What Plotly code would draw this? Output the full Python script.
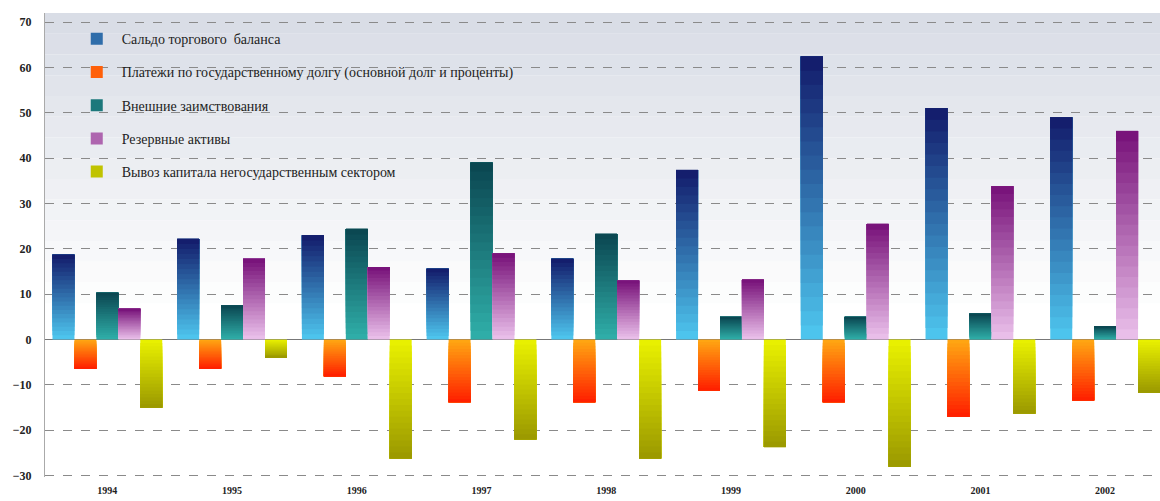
import plotly.graph_objects as go

years = ["1994", "1995", "1996", "1997", "1998", "1999", "2000", "2001", "2002"]

series_names = [
    "Сальдо торгового  баланса",
    "Платежи по государственному долгу (основной долг и проценты)",
    "Внешние заимствования",
    "Резервные активы",
    "Вывоз капитала негосударственным сектором",
]

trade_balance = [18.7, 22.2, 23.0, 15.6, 17.8, 37.4, 62.4, 51.0, 49.0]
debt_payments = [-6.4, -6.4, -8.1, -13.8, -13.8, -11.2, -13.8, -17.0, -13.4]
borrowing = [10.3, 7.5, 24.4, 39.0, 23.3, 5.0, 5.0, 5.7, 2.9]
reserves = [6.8, 17.8, 16.0, 19.0, 13.0, 13.2, 25.5, 33.8, 46.0]
capital_flight = [-15.0, -4.0, -26.2, -22.0, -26.2, -23.7, -28.0, -16.3, -11.7]

y_ticks = [-30, -20, -10, 0, 10, 20, 30, 40, 50, 60, 70]

all_series = [trade_balance, debt_payments, borrowing, reserves, capital_flight]
# gradient colours: (near zero, far end)
grad = [
    ("#4ec8f0", "#131a6a"),
    ("#ffa812", "#ff1e00"),
    ("#30b0aa", "#0a4550"),
    ("#ecc2ec", "#761078"),
    ("#eaf200", "#9a9800"),
]


def hex2rgb(h):
    h = h.lstrip("#")
    return tuple(int(h[i:i + 2], 16) for i in (0, 2, 4))


def mix(c1, c2, t):
    a, b = hex2rgb(c1), hex2rgb(c2)
    return "rgb(%d,%d,%d)" % tuple(round(a[i] + (b[i] - a[i]) * t) for i in range(3))


N = 20
fig = go.Figure()
for si, (name, vals) in enumerate(zip(series_names, all_series)):
    c0, c1 = grad[si]
    for k in range(N):
        t = (k + 0.5) / N
        # each layer runs from its own start to the bar end; later layers overlay earlier ones
        fig.add_trace(go.Bar(
            x=years,
            y=[v * (N - k) / N for v in vals],
            base=[v * k / N for v in vals],
            name=name,
            offsetgroup=str(si),
            legendgroup=str(si),
            showlegend=(k == N // 2),
            marker=dict(color=mix(c0, c1, t), line=dict(width=0)),
            hoverinfo="skip" if k else "all",
        ))

# background fade (decoration)
bands = 14
top, bot = 72, 8
for b in range(bands):
    y0 = top - (top - bot) * b / bands
    y1 = top - (top - bot) * (b + 1) / bands
    fig.add_shape(type="rect", xref="paper", yref="y", x0=0, x1=1, y0=y1, y1=y0,
                  fillcolor=mix("#d9dde6", "#ffffff", b / bands), line=dict(width=0),
                  layer="below")

fig.update_layout(
    width=1160, height=501,
    margin=dict(l=45, r=0, t=13, b=24),
    barmode="group", bargap=0.12, bargroupgap=0,
    paper_bgcolor="white", plot_bgcolor="rgba(0,0,0,0)",
    font=dict(family="Liberation Serif", color="#222"),
    legend=dict(x=0.024, y=0.978, xanchor="left", yanchor="top",
                bgcolor="rgba(0,0,0,0)", font=dict(size=14, color="#222"),
                tracegroupgap=12, itemwidth=40),
    xaxis=dict(type="category", range=[-0.5, 8.44], showgrid=False, automargin=False,
               ticks="", ticklabelstandoff=6,
               tickfont=dict(size=10, color="#222", weight="bold"), showline=False),
    yaxis=dict(range=[-30.3, 72], tickvals=y_ticks, showgrid=True, automargin=False,
               gridcolor="#8a8a8a", griddash="dash", gridwidth=1,
               zeroline=True, zerolinecolor="#777", zerolinewidth=1,
               showline=True, linecolor="#aaa", linewidth=1,
               ticklabelstandoff=10,
               tickfont=dict(size=12, color="#222", weight="bold"), ticks=""),
)

fig.write_html("out.html", config={"displayModeBar": False},
               post_script="document.body.style.margin='0';")
